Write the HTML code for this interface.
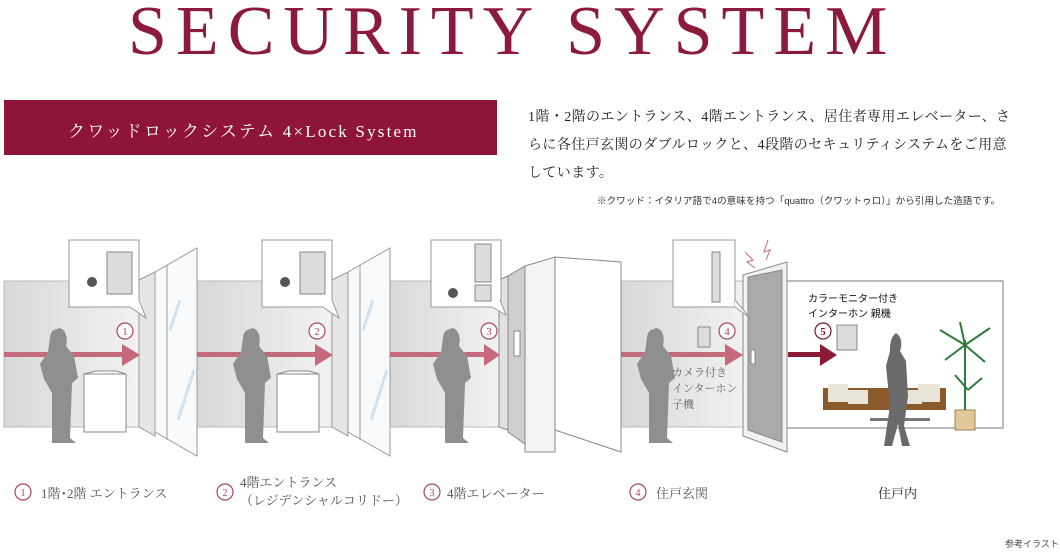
<!DOCTYPE html>
<html><head><meta charset="utf-8"><style>
body{margin:0;width:1060px;height:553px;background:#fff;overflow:hidden;position:relative;font-family:"Liberation Serif","Noto Serif CJK SC",serif;}
.t{position:absolute;white-space:nowrap;}
</style></head><body>
<div class="t" style="left:128px;top:-8px;font-size:70px;letter-spacing:9px;color:#8c1a3c;">SECURITY SYSTEM</div>
<div style="position:absolute;left:4px;top:100px;width:493px;height:55px;background:#8e1438;"></div>
<div class="t" style="left:68px;top:117px;font-size:17px;letter-spacing:2.2px;color:#fff;">クワッドロックシステム 4×Lock System</div>
<div class="t" style="left:528px;top:104px;font-size:14px;line-height:28px;letter-spacing:0.4px;color:#222;">1階・2階のエントランス、4階エントランス、居住者専用エレベーター、さ<br>らに各住戸玄関のダブルロックと、4段階のセキュリティシステムをご用意<br>しています。</div>
<div class="t" style="left:597px;top:193px;font-size:9.6px;color:#333;font-family:'Liberation Sans','Noto Sans CJK JP',sans-serif;">※クワッド：イタリア語で4の意味を持つ「quattro（クワットゥロ）」から引用した造語です。</div>

<svg style="position:absolute;left:0;top:0" width="1060" height="553">
<defs><linearGradient id="w" x1="0" x2="1"><stop offset="0" stop-color="#d8d8d8"/><stop offset="1" stop-color="#f2f2f2"/></linearGradient></defs>
<g stroke="#b8b8b8" stroke-width="1">
<rect x="4" y="281" width="136" height="146" fill="url(#w)"/>
<rect x="197" y="281" width="137" height="146" fill="url(#w)"/>
<rect x="390" y="281" width="110" height="146" fill="url(#w)"/>
<rect x="621" y="281" width="125" height="146" fill="url(#w)"/>
<rect x="787" y="281" width="216" height="147" fill="#fff" stroke="#777"/>
</g>
<g stroke="#999" stroke-width="1">
<polygon points="139,280 155,272 155,436 139,427" fill="#e6e6e6"/>
<polygon points="155,272 197,248 197,456 155,432" fill="#f8fafc"/>
<line x1="167" y1="265" x2="167" y2="440"/>
<polygon points="332,280 348,272 348,436 332,427" fill="#e6e6e6"/>
<polygon points="348,272 390,248 390,456 348,432" fill="#f8fafc"/>
<line x1="360" y1="265" x2="360" y2="440"/>
</g>
<g stroke="#cfe3f2" stroke-width="3">
<line x1="170" y1="330" x2="180" y2="300"/><line x1="178" y1="420" x2="194" y2="370"/><line x1="363" y1="330" x2="373" y2="300"/><line x1="371" y1="420" x2="387" y2="370"/>
</g>
<g stroke="#888" stroke-width="1">
<polygon points="499,280 508,276 508,430 499,427" fill="#e2e2e2"/>
<polygon points="508,276 525,266 525,444 508,432" fill="#cfcfcf"/>
<polygon points="525,266 555,257 555,452 525,452" fill="#f4f4f4"/>
<polygon points="555,257 621,262 621,452 555,430" fill="#fff"/>
<rect x="514" y="331" width="6" height="25" fill="#fff"/>
</g>
<g stroke="#888">
<polygon points="743,275 787,262 787,452 743,436" fill="#f2f2f2"/>
<polygon points="748,277 782,270 782,442 748,430" fill="#aaa"/>
<rect x="751" y="350" width="4" height="14" fill="#fff"/>
</g>
<path d="M745 252 l8 8 -6 2 8 6 M768 240 l-4 12 6 -2 -4 10" stroke="#c46a7a" fill="none"/>
<g fill="#c46a7a">
<rect x="4" y="352" width="122" height="5"/><polygon points="122,344 140,355 122,366"/>
<rect x="197" y="352" width="122" height="5"/><polygon points="315,344 333,355 315,366"/>
<rect x="390" y="352" width="98" height="5"/><polygon points="484,344 500,355 484,366"/>
<rect x="621" y="352" width="108" height="5"/><polygon points="725,344 743,355 725,366"/>
</g>
<g fill="#8c1a36"><rect x="788" y="352" width="35" height="5"/><polygon points="820,344 837,355 820,366"/></g>
<g fill="#fff" stroke="#a8465e" stroke-width="1.2" font-size="11" text-anchor="middle" font-family="Liberation Serif">
<circle cx="125" cy="331" r="8"/><text x="125" y="335" fill="#a8465e" stroke="none">1</text>
<circle cx="317" cy="331" r="8"/><text x="317" y="335" fill="#a8465e" stroke="none">2</text>
<circle cx="489" cy="331" r="8"/><text x="489" y="335" fill="#a8465e" stroke="none">3</text>
<circle cx="727" cy="331" r="8"/><text x="727" y="335" fill="#a8465e" stroke="none">4</text>
<circle cx="823" cy="331" r="8" stroke="#7a1430"/><text x="823" y="335" fill="#7a1430" stroke="none" font-weight="bold">5</text>
</g>
<g fill="#fff" stroke="#999">
<rect x="69" y="240" width="70" height="67"/><polyline points="130,307 146,318 139,300" />
<rect x="262" y="240" width="70" height="67"/><polyline points="323,307 339,318 332,300"/>
<rect x="431" y="240" width="70" height="67"/><polyline points="492,307 506,315 500,300"/>
<rect x="673" y="240" width="62" height="67"/><polyline points="735,300 750,318 735,307"/>
</g>
<g fill="#ddd" stroke="#888"><rect x="107" y="252" width="25" height="42"/><rect x="300" y="252" width="25" height="42"/><rect x="475" y="244" width="16" height="38"/><rect x="475" y="285" width="16" height="16"/><rect x="712" y="252" width="8" height="50"/></g>
<g fill="#555"><circle cx="92" cy="282" r="5"/><circle cx="285" cy="282" r="5"/><circle cx="453" cy="293" r="5"/></g>
<g fill="#fff" stroke="#888"><rect x="84" y="374" width="42" height="58"/><polygon points="84,374 96,371 116,371 126,374" /><rect x="277" y="374" width="42" height="58"/><polygon points="277,374 289,371 309,371 319,374"/></g>
<rect x="698" y="327" width="12" height="20" fill="#ddd" stroke="#888"/>
<rect x="837" y="325" width="20" height="25" fill="#ddd" stroke="#888"/>
<g fill="#8f8f8f">
<path d="M58 328 c8 0 10 10 8 18 l8 10 4 22 -6 5 -2 55 6 5 -24 0 0 -50 -8 -14 -4 -15 8 -12 2 -14 c0 -5 3 -9 8 -9z"/>
<path d="M251 328 c8 0 10 10 8 18 l8 10 4 22 -6 5 -2 55 6 5 -24 0 0 -50 -8 -14 -4 -15 8 -12 2 -14 c0 -5 3 -9 8 -9z"/>
<path d="M451 328 c8 0 10 10 8 18 l8 10 4 22 -6 5 -2 55 6 5 -24 0 0 -50 -8 -14 -4 -15 8 -12 2 -14 c0 -5 3 -9 8 -9z"/>
<path d="M655 328 c8 0 10 10 8 18 l8 10 4 22 -6 5 -2 55 6 5 -24 0 0 -50 -8 -14 -4 -15 8 -12 2 -14 c0 -5 3 -9 8 -9z"/>
</g>
<rect x="823" y="388" width="123" height="22" fill="#8a5a2a"/>
<g fill="#e8e4d8"><rect x="828" y="384" width="20" height="18"/><rect x="848" y="390" width="20" height="14"/><rect x="902" y="390" width="20" height="14"/><rect x="918" y="384" width="22" height="18"/></g>
<rect x="870" y="418" width="60" height="3" fill="#777"/>
<path d="M893 333 c8 0 10 10 7 18 l6 10 2 35 -4 30 6 20 -8 0 -4 -22 -6 22 -8 0 6 -40 -4 -40 4 -15 c0 -10 2 -18 9 -18z" fill="#6a6a6a"/>
<rect x="955" y="410" width="20" height="20" fill="#e0c898" stroke="#a08050"/>
<g stroke="#2f7a3c" stroke-width="2"><path d="M965 410 L965 340 M965 345 L940 330 M965 345 L990 328 M965 345 L945 360 M965 345 L985 362 M965 345 L960 322 M968 390 L955 375 M968 390 L982 378"/></g>
</svg>

<div class="t" style="left:672px;top:365px;font-size:11px;line-height:16px;color:#666;">カメラ付き<br>インターホン<br>子機</div>
<div class="t" style="left:808px;top:292px;font-size:10px;line-height:15px;color:#111;font-family:'Liberation Sans','Noto Sans CJK JP',sans-serif;">カラーモニター付き<br>インターホン 親機</div>

<svg style="position:absolute;left:0;top:0" width="1060" height="553">
<g fill="none" stroke="#a8465e" stroke-width="1.2"><circle cx="23" cy="492" r="8"/><circle cx="225" cy="492" r="8"/><circle cx="432" cy="492" r="8"/><circle cx="638" cy="492" r="8"/></g>
<g fill="#a8465e" font-size="10" text-anchor="middle" font-family="Liberation Serif"><text x="23" y="496">1</text><text x="225" y="496">2</text><text x="432" y="496">3</text><text x="638" y="496">4</text></g>
</svg>
<div class="t" style="left:41px;top:483px;font-size:13px;color:#555;">1階･2階 エントランス</div>
<div class="t" style="left:240px;top:474px;font-size:13px;line-height:18px;color:#555;">4階エントランス<br>（レジデンシャルコリドー）</div>
<div class="t" style="left:447px;top:483px;font-size:13px;color:#555;">4階エレベーター</div>
<div class="t" style="left:656px;top:483px;font-size:13px;color:#555;">住戸玄関</div>
<div class="t" style="left:878px;top:483px;font-size:13px;color:#222;">住戸内</div>
<div class="t" style="left:1005px;top:537px;font-size:9px;color:#444;font-family:'Liberation Sans','Noto Sans CJK JP',sans-serif;">参考イラスト</div>
</body></html>
